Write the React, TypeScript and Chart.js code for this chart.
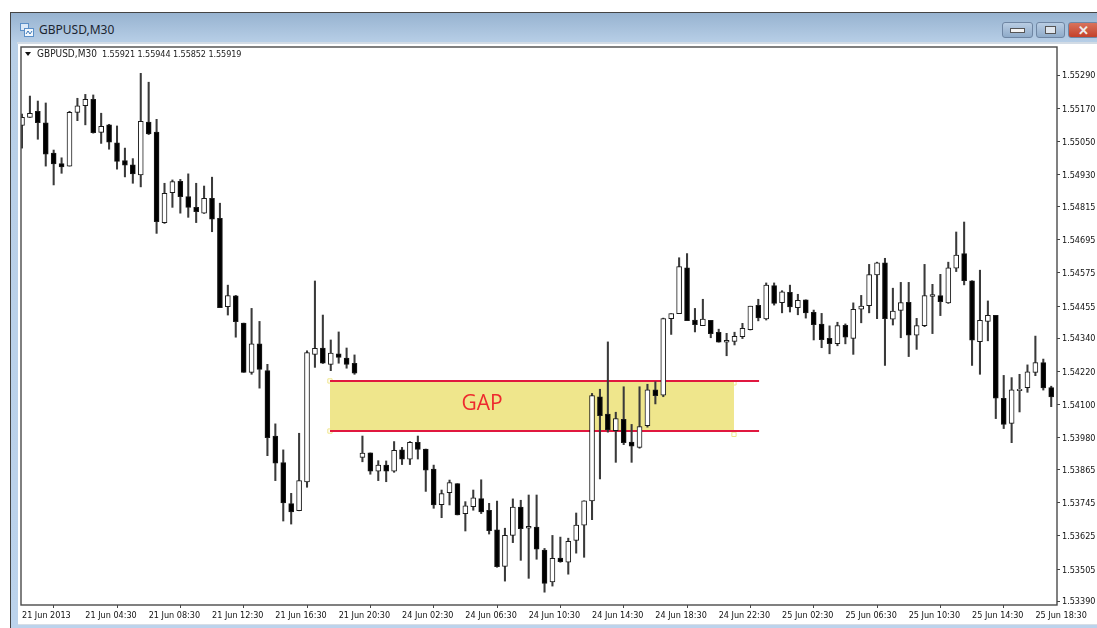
import React, { useEffect, useRef } from "react";
import { Chart, registerables } from "chart.js";

Chart.register(...registerables);

const barIndex = Array.from({ length: 131 }, (_, i) => i);

const opens = [1.55108,1.55137,1.55159,1.55117,1.55008,1.5497,1.54961,1.55155,1.55179,1.55202,1.55083,1.5511,1.55045,1.54981,1.54966,1.54929,1.5512,1.55084,1.54757,1.54865,1.54906,1.54851,1.54812,1.54791,1.54845,1.54772,1.54453,1.54492,1.54394,1.54216,1.54319,1.54222,1.53986,1.5389,1.53742,1.53716,1.5382,1.54281,1.54304,1.54245,1.54283,1.54268,1.54249,1.53909,1.53925,1.53859,1.53881,1.53859,1.53936,1.53902,1.53963,1.53939,1.53867,1.53738,1.53781,1.53814,1.53706,1.53731,1.5376,1.53718,1.53647,1.53515,1.53627,1.53729,1.53653,1.53657,1.53574,1.53459,1.53545,1.5353,1.53609,1.53664,1.53752,1.54128,1.54065,1.54005,1.54046,1.53964,1.53945,1.54023,1.54153,1.54134,1.5441,1.54428,1.54594,1.54405,1.54385,1.54404,1.54361,1.54325,1.54328,1.54345,1.5437,1.54458,1.54409,1.54529,1.54468,1.54505,1.5445,1.54478,1.54433,1.5439,1.54339,1.5432,1.54386,1.54339,1.54444,1.54457,1.54568,1.54612,1.54408,1.5444,1.54469,1.5435,1.54385,1.5449,1.54493,1.54467,1.54592,1.54645,1.54547,1.54327,1.544,1.54422,1.54122,1.54032,1.5415,1.54161,1.54216,1.54251,1.54161];

const highs = [1.55149,1.55214,1.55196,1.55189,1.55019,1.54991,1.55159,1.55206,1.5522,1.55218,1.55152,1.55112,1.55106,1.55026,1.54988,1.55296,1.55264,1.5513,1.54899,1.54911,1.54913,1.54933,1.54899,1.54889,1.54921,1.54827,1.54531,1.54494,1.54394,1.54447,1.544,1.54245,1.5403,1.53936,1.53779,1.53996,1.54294,1.54546,1.54423,1.54333,1.54362,1.54304,1.54279,1.53986,1.53925,1.53897,1.53896,1.53966,1.53945,1.53966,1.53986,1.53939,1.53881,1.53791,1.53827,1.53814,1.53749,1.53791,1.53828,1.53743,1.53751,1.53653,1.53759,1.53754,1.53773,1.53773,1.5358,1.53627,1.53621,1.53617,1.53708,1.53752,1.5414,1.54155,1.54326,1.54072,1.54164,1.54028,1.54164,1.54173,1.54182,1.54412,1.54428,1.5463,1.54645,1.54447,1.5448,1.54404,1.54372,1.54357,1.54361,1.54393,1.54455,1.5448,1.54539,1.54539,1.54511,1.54531,1.54498,1.54478,1.54441,1.54429,1.54384,1.54397,1.54391,1.54467,1.54494,1.54606,1.54614,1.54628,1.5452,1.54541,1.54541,1.54411,1.54606,1.54534,1.5457,1.54614,1.54723,1.54759,1.54547,1.54585,1.54474,1.54422,1.54205,1.54197,1.54209,1.54243,1.54347,1.54264,1.54166];

const lows = [1.55026,1.55137,1.55058,1.54961,1.54893,1.54935,1.54961,1.55125,1.5511,1.5508,1.55043,1.55022,1.5495,1.54922,1.54899,1.54886,1.55075,1.54718,1.54754,1.54812,1.54791,1.54776,1.54757,1.5479,1.54724,1.5445,1.54423,1.54343,1.54216,1.54209,1.54159,1.53915,1.53825,1.53679,1.53668,1.53716,1.53801,1.54234,1.54248,1.54222,1.54249,1.54231,1.54209,1.53893,1.53848,1.53825,1.53821,1.53855,1.53883,1.53883,1.53903,1.53786,1.53725,1.53691,1.53737,1.53701,1.53643,1.53718,1.53706,1.53632,1.53512,1.53462,1.53601,1.53537,1.53472,1.53541,1.53422,1.53444,1.5353,1.53487,1.53563,1.53548,1.53684,1.53831,1.54,1.53891,1.53955,1.53891,1.53942,1.54018,1.54102,1.54128,1.54353,1.54428,1.54403,1.54362,1.54385,1.54341,1.54325,1.54276,1.54315,1.54338,1.54369,1.54402,1.54405,1.54459,1.54431,1.54434,1.54424,1.54412,1.54333,1.54305,1.54283,1.54312,1.54319,1.54281,1.54395,1.54431,1.5441,1.54241,1.54387,1.54341,1.54273,1.54299,1.54381,1.54356,1.54421,1.54465,1.5458,1.54532,1.54241,1.54209,1.5433,1.54049,1.54013,1.53962,1.54073,1.54144,1.54204,1.54152,1.54092];

const closes = [1.55137,1.55152,1.55118,1.55004,1.54969,1.54958,1.55155,1.55179,1.55202,1.55082,1.55105,1.55047,1.54978,1.54964,1.54933,1.55123,1.55077,1.5476,1.54863,1.54905,1.54851,1.54812,1.54796,1.54845,1.54769,1.5445,1.54493,1.54399,1.54216,1.54319,1.54227,1.5398,1.53888,1.53744,1.53712,1.53825,1.54287,1.54303,1.54249,1.54286,1.5427,1.54245,1.54213,1.53924,1.53859,1.53881,1.53859,1.53934,1.53902,1.53963,1.53938,1.53863,1.53737,1.53778,1.53818,1.53701,1.53734,1.53763,1.53712,1.53644,1.53514,1.53627,1.53729,1.53651,1.5366,1.53577,1.53454,1.53544,1.53532,1.53606,1.53664,1.53752,1.54132,1.5406,1.54008,1.54049,1.53962,1.53949,1.5402,1.54153,1.54132,1.5441,1.54428,1.54598,1.54403,1.54388,1.54408,1.54356,1.54325,1.54332,1.54346,1.54375,1.54455,1.54413,1.54531,1.54465,1.54507,1.54452,1.54476,1.54431,1.54388,1.54334,1.5432,1.54385,1.54343,1.54444,1.54455,1.54569,1.54612,1.5441,1.54437,1.54468,1.5435,1.54385,1.54493,1.54497,1.54471,1.54594,1.5464,1.54547,1.54332,1.54404,1.54422,1.54123,1.54028,1.54153,1.54155,1.54218,1.54251,1.5416,1.54127];

const tickBars = [0, 8, 16, 24, 32, 40, 48, 56, 64, 72, 80, 88, 96, 104, 112, 120, 128];
const tickLabels = ["21 Jun 2013","21 Jun 04:30","21 Jun 08:30","21 Jun 12:30","21 Jun 16:30","21 Jun 20:30","24 Jun 02:30","24 Jun 06:30","24 Jun 10:30","24 Jun 14:30","24 Jun 18:30","24 Jun 22:30","25 Jun 02:30","25 Jun 06:30","25 Jun 10:30","25 Jun 14:30","25 Jun 18:30"];
const priceTicks = [1.5529,1.5517,1.5505,1.5493,1.54815,1.54695,1.54575,1.54455,1.5434,1.5422,1.541,1.5398,1.53865,1.53745,1.53625,1.53505,1.5339];

const gapHigh = 1.54185;
const gapLow = 1.54004;
const gapStartBar = 38.9;
const gapFillEndBar = 89.93;
const gapLineEndBar = 93.1;
const gapLabelBar = 58.1;
const gapLabelPrice = 1.541;
const handleHighRight = 1.54178;
const handleLowRight = 1.53992;

const AXIS_FONT = '"DejaVu Sans Condensed", "DejaVu Sans", sans-serif';

const chartFrame = {
  id: "chartFrame",
  afterDatasetsDraw(chart: any) {
    const { ctx, chartArea: a, scales } = chart;
    ctx.save();
    ctx.fillStyle = "#ee2a2e";
    ctx.font = '21px "Open Sans", sans-serif';
    ctx.textAlign = "center";
    ctx.textBaseline = "middle";
    ctx.fillText("GAP", scales.x.getPixelForValue(gapLabelBar), scales.y.getPixelForValue(gapLabelPrice));
    ctx.strokeStyle = "#4a4a4a";
    ctx.lineWidth = 1.4;
    ctx.strokeRect(a.left, a.top, a.right - a.left, a.bottom - a.top);
    ctx.restore();
  },
};

export default function App() {
  const ref = useRef<HTMLCanvasElement>(null);

  useEffect(() => {
    const chart = new Chart(ref.current as HTMLCanvasElement, {
      type: "bar",
      data: {
        datasets: [
          {
            type: "line",
            order: 6,
            data: [{ x: gapStartBar, y: gapHigh }, { x: gapFillEndBar, y: gapHigh }],
            fill: { value: gapLow },
            backgroundColor: "#efe68c",
            borderWidth: 0,
            pointRadius: 0,
          },
          {
            type: "scatter",
            order: 5,
            data: [
              { x: gapStartBar, y: gapHigh },
              { x: gapStartBar, y: gapLow },
              { x: gapFillEndBar, y: handleHighRight },
              { x: gapFillEndBar, y: handleLowRight },
            ],
            pointStyle: "rect",
            pointRadius: 3,
            backgroundColor: "rgba(255,255,255,0)",
            borderColor: "#efe68c",
            borderWidth: 1,
          },
          {
            type: "line",
            order: 4,
            data: [{ x: gapStartBar, y: gapHigh }, { x: gapLineEndBar, y: gapHigh }],
            borderColor: "#e0183f",
            borderWidth: 2,
            pointRadius: 0,
          },
          {
            type: "line",
            order: 4,
            data: [{ x: gapStartBar, y: gapLow }, { x: gapLineEndBar, y: gapLow }],
            borderColor: "#e0183f",
            borderWidth: 2,
            pointRadius: 0,
          },
          {
            type: "bar",
            order: 2,
            grouped: false,
            barThickness: 1.4,
            backgroundColor: "#3a3a3a",
            borderWidth: 0,
            data: barIndex.map((i) => ({ x: i, y: [lows[i], highs[i]] })),
          },
          {
            type: "bar",
            order: 1,
            grouped: false,
            barThickness: 5,
            backgroundColor: barIndex.map((i) => (closes[i] >= opens[i] ? "#ffffff" : "#000000")),
            borderColor: "#1a1a1a",
            borderWidth: 1,
            borderSkipped: false,
            data: barIndex.map((i) => ({ x: i, y: [opens[i], closes[i]] })),
          },
        ] as any,
      },
      options: {
        responsive: false,
        animation: false,
        layout: { padding: { left: 21, top: 47, right: 0, bottom: 0 } },
        plugins: { legend: { display: false }, tooltip: { enabled: false } },
        scales: {
          x: {
            type: "linear",
            offset: false,
            min: -0.126,
            max: 130.73,
            afterFit: (s: any) => { s.height = 23; },
            afterBuildTicks: (s: any) => { s.ticks = tickBars.map((value) => ({ value })); },
            grid: { drawOnChartArea: false, drawTicks: true, tickLength: 3, color: "#444" },
            border: { display: false },
            ticks: {
              autoSkip: false,
              maxRotation: 0,
              minRotation: 0,
              align: "start",
              padding: 2,
              color: "#111",
              font: { family: AXIS_FONT, size: 9 },
              callback: (v: any) => tickLabels[tickBars.indexOf(Number(v))],
            },
          },
          y: {
            position: "right",
            min: 1.533757,
            max: 1.553912,
            afterFit: (s: any) => { s.width = 40; },
            afterBuildTicks: (s: any) => { s.ticks = priceTicks.map((value) => ({ value })); },
            grid: { drawOnChartArea: false, drawTicks: true, tickLength: 3, color: "#444" },
            border: { display: false },
            ticks: {
              autoSkip: false,
              padding: 2,
              labelOffset: 1,
              color: "#111",
              font: { family: AXIS_FONT, size: 9 },
              callback: (v: any) => Number(v).toFixed(5),
            },
          },
        },
      } as any,
      plugins: [chartFrame],
    });
    return () => chart.destroy();
  }, []);

  const winBtn = (left: number, width: number, bg: string, child: React.ReactNode) => (
    <div style={{ position: "absolute", left, top: 22, width, height: 16, borderRadius: 3, border: "1px solid #6f86a3", boxSizing: "border-box", background: bg, display: "flex", alignItems: "center", justifyContent: "center" }}>{child}</div>
  );

  return (
    <div style={{ position: "absolute", left: 0, top: 0, width: 1097, height: 628, overflow: "hidden", background: "#fff", fontFamily: "Noto Sans, sans-serif" }}>
      <div style={{ position: "absolute", left: 10, top: 12, right: 0, bottom: 0, background: "linear-gradient(#97b3d0 0px, #b8cfe7 30px, #bcd3ec 100%)", borderLeft: "1px solid #444", borderTop: "1.5px solid #444" }} />
      <div style={{ position: "absolute", left: 17, top: 42, right: 0, height: 2, background: "#d2dbe5" }} />
      <div style={{ position: "absolute", left: 18, top: 44, right: 0, height: 581, background: "#fff", borderBottom: "1px solid #d8dee6", boxSizing: "border-box" }} />
      <svg style={{ position: "absolute", left: 20, top: 23 }} width="14" height="14">
        <rect x="0.5" y="0.5" width="8" height="7" fill="#dbe9f8" stroke="#5b8fc7" />
        <rect x="4.5" y="5.5" width="9" height="8" fill="#f2f7fc" stroke="#5b8fc7" />
        <path d="M6 11 L8 8 L10 11 L12 8" fill="none" stroke="#3a78b8" />
      </svg>
      <div style={{ position: "absolute", left: 39, top: 22, fontSize: 12, lineHeight: "16px", color: "#1c2530" }}>GBPUSD,M30</div>
      {winBtn(1002, 31, "linear-gradient(#b9cde3, #8fabc9)", <div style={{ width: 13, height: 3, background: "#f4f4f4", border: "1px solid #555" }} />)}
      {winBtn(1036, 29, "linear-gradient(#b9cde3, #8fabc9)", <div style={{ width: 9, height: 6, background: "#dfe6ee", border: "1.5px solid #555" }} />)}
      {winBtn(1068, 31, "linear-gradient(#d9735c, #c4412a)", <div style={{ color: "#eee", fontSize: 13, fontWeight: 700, lineHeight: "13px" }}>✕</div>)}
      <canvas ref={ref} width={1097} height={628} style={{ position: "absolute", left: 0, top: 0, display: "block" }} />
      <div style={{ position: "absolute", left: 25, top: 52, width: 0, height: 0, borderLeft: "3.5px solid transparent", borderRight: "3.5px solid transparent", borderTop: "4px solid #111" }} />
      <div style={{ position: "absolute", left: 37, top: 48, fontFamily: AXIS_FONT, fontSize: 10, lineHeight: "12px", color: "#222", whiteSpace: "pre" }}>GBPUSD,M30</div>
      <div style={{ position: "absolute", left: 102, top: 48, fontFamily: AXIS_FONT, fontSize: 9, letterSpacing: -0.07, lineHeight: "12px", color: "#222", whiteSpace: "pre" }}>1.55921 1.55944 1.55852 1.55919</div>
    </div>
  );
}
